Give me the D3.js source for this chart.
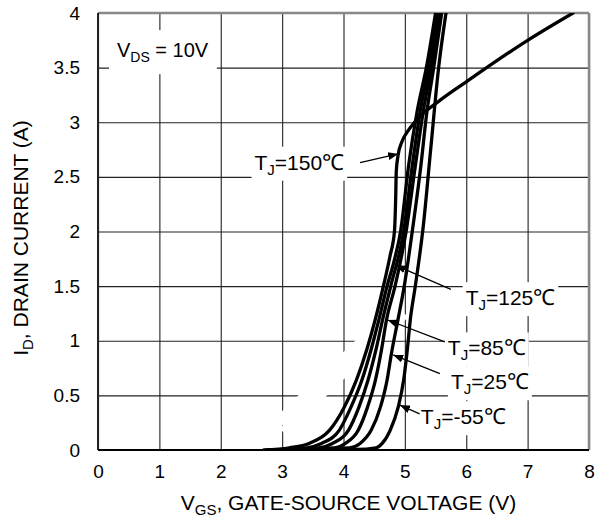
<!DOCTYPE html>
<html>
<head>
  <meta charset="UTF-8">
  <title>ID vs VGS transfer characteristics</title>
  <style>
    body { margin: 0; background: #fff; }
    svg text { font-family: "Liberation Sans", Arial, sans-serif; fill: #000; }
    .grid line { stroke: #222; stroke-width: 1.2px; }
    .grid path { display: none; }
    .curve { fill: none; stroke: #000; stroke-width: 3.3px; stroke-linejoin: round; stroke-linecap: round; }
    .arrow { stroke: #000; stroke-width: 1.3px; fill: none; }
  </style>
</head>
<body>
  <svg width="609" height="527" id="chart"></svg>
  <script src="https://cdn.jsdelivr.net/npm/d3@7/dist/d3.min.js"></script>
  <script>
    // axis ticks
    var xTicks = [0, 1, 2, 3, 4, 5, 6, 7, 8];
    var yTicks = [0, 0.5, 1, 1.5, 2, 2.5, 3, 3.5, 4];
    var yTickLabels = ["0", "0.5", "1", "1.5", "2", "2.5", "3", "3.5", "4"];

    // curves: [VGS (V), ID (A)]
    var curve150 = [[2.7, 0], [3.12, 0.02], [3.44, 0.06], [3.77, 0.18], [4.01, 0.39], [4.21, 0.64], [4.38, 0.92], [4.52, 1.2], [4.65, 1.5], [4.76, 1.78], [4.83, 2.0], [4.85, 2.3], [4.86, 2.55], [4.89, 2.7], [4.95, 2.82], [5.05, 2.92], [5.24, 3.05], [5.57, 3.2], [6.0, 3.37], [7.0, 3.75], [7.74, 4.0]];
    var curve125 = [[2.75, 0], [3.4, 0.02], [3.64, 0.06], [3.93, 0.18], [4.12, 0.39], [4.3, 0.64], [4.45, 0.92], [4.58, 1.2], [4.71, 1.5], [4.82, 1.72], [4.93, 2.0], [5.06, 2.6], [5.2, 3.1], [5.35, 3.5], [5.5, 4.0]];
    var curveMid = [[2.8, 0], [3.6, 0.02], [3.82, 0.06], [4.08, 0.18], [4.25, 0.39], [4.4, 0.64], [4.53, 0.92], [4.64, 1.2], [4.77, 1.5], [4.98, 2.0], [5.12, 2.6], [5.25, 3.1], [5.39, 3.5], [5.53, 4.0]];
    var curve85 = [[2.85, 0], [3.85, 0.02], [4.03, 0.06], [4.24, 0.18], [4.39, 0.39], [4.52, 0.64], [4.62, 0.92], [4.7, 1.19], [4.84, 1.5], [5.02, 2.0], [5.17, 2.6], [5.3, 3.1], [5.43, 3.5], [5.56, 4.0]];
    var curve25 = [[2.9, 0], [4.1, 0.02], [4.27, 0.06], [4.45, 0.18], [4.6, 0.39], [4.71, 0.64], [4.78, 0.88], [4.89, 1.2], [4.99, 1.5], [5.12, 2.0], [5.26, 2.6], [5.36, 3.1], [5.47, 3.5], [5.6, 4.0]];
    var curveM55 = [[3.0, 0], [4.2, 0.005], [4.53, 0.02], [4.63, 0.06], [4.76, 0.18], [4.89, 0.39], [4.98, 0.64], [5.04, 0.92], [5.09, 1.2], [5.17, 1.5], [5.3, 2.05], [5.42, 2.75], [5.55, 3.5], [5.67, 4.0]];

    // annotation labels: text start, arrow tail, arrow tip (data units)
    var labelTemps = ["150", "125", "85", "25", "-55"];
    var labelText = [[2.55, 2.63], [5.99, 1.39], [5.70, 0.93], [5.75, 0.62], [5.26, 0.30]];
    var arrowTail = [[4.27, 2.63], [5.75, 1.47], [5.65, 0.99], [5.57, 0.70], [5.24, 0.33]];
    var arrowTip = [[4.89, 2.71], [4.85, 1.69], [4.72, 1.19], [4.81, 0.87], [4.92, 0.41]];

    // faint watermark strokes (data units)
    var watermark = [
      [[1.74, -0.72], [2.79, 0.12]],
      [[3.0, 0.23], [4.94, 1.28]],
      [[3.08, 0.26], [4.66, -0.72]],
      [[5.63, 0.18], [4.55, -0.44]],
      [[7.39, -0.15], [6.36, -0.72]]
    ];

    var svg = d3.select("#chart"),
      margin = { top: 13, right: 20, bottom: 77, left: 98 },
      width = +svg.attr("width") - margin.left - margin.right,
      height = +svg.attr("height") - margin.top - margin.bottom;

    var x = d3.scaleLinear().domain([0, 8]).range([0, width]),
      y = d3.scaleLinear().domain([0, 4]).range([height, 0]);

    var g = svg.append("g").attr("transform", "translate(" + margin.left + "," + margin.top + ")");

    g.append("defs").append("clipPath").attr("id", "clip")
      .append("rect").attr("width", width).attr("height", height);

    var defs = svg.append("defs");
    defs.append("marker")
      .attr("id", "head")
      .attr("viewBox", "0 0 10 8")
      .attr("refX", 10).attr("refY", 4)
      .attr("markerWidth", 10).attr("markerHeight", 8)
      .attr("markerUnits", "userSpaceOnUse")
      .attr("orient", "auto")
      .append("path").attr("d", "M0,0L10,4L0,8Z").attr("fill", "#000");

    // grid
    g.append("g").attr("class", "grid")
      .attr("transform", "translate(0," + height + ")")
      .call(d3.axisBottom(x).tickValues(xTicks).tickSize(-height).tickFormat(""))
      .selectAll("line").style("stroke", "#333");
    g.append("g").attr("class", "grid")
      .call(d3.axisLeft(y).tickValues(yTicks).tickSize(-width).tickFormat(""));

    // watermark covers grid
    var wm = d3.line().x(function (d) { return x(d[0]); }).y(function (d) { return y(d[1]); });
    g.append("g").selectAll("path").data(watermark).enter().append("path")
      .attr("d", wm)
      .attr("stroke", "#fff").attr("stroke-width", 20).attr("fill", "none");

    // frame
    g.append("line").attr("x1", 0).attr("x2", width).attr("y1", 0).attr("y2", 0)
      .attr("stroke", "#888").attr("stroke-width", 2.5);
    g.append("line").attr("x1", width).attr("x2", width).attr("y1", 0).attr("y2", height)
      .attr("stroke", "#888").attr("stroke-width", 2.5);
    g.append("line").attr("x1", 0).attr("x2", 0).attr("y1", 0).attr("y2", height)
      .attr("stroke", "#222").attr("stroke-width", 2);
    g.append("line").attr("x1", 0).attr("x2", width).attr("y1", height).attr("y2", height)
      .attr("stroke", "#000").attr("stroke-width", 2);

    // tick labels
    var xAxis = g.append("g")
      .attr("transform", "translate(0," + height + ")")
      .call(d3.axisBottom(x).tickValues(xTicks).tickSize(0).tickPadding(15));
    xAxis.select(".domain").remove();
    xAxis.selectAll("text").style("font-size", "19px").style("font-family", "Liberation Sans, Arial, sans-serif");

    var yAxis = g.append("g")
      .call(d3.axisLeft(y).tickValues(yTicks).tickSize(0).tickPadding(18)
        .tickFormat(function (d, i) { return yTickLabels[i]; }));
    yAxis.select(".domain").remove();
    yAxis.selectAll("text").style("font-size", "19px").style("font-family", "Liberation Sans, Arial, sans-serif");

    // axis titles
    var xt = svg.append("text")
      .attr("x", margin.left + width / 2 + 5).attr("y", 510)
      .attr("text-anchor", "middle").style("font-size", "21px");
    xt.append("tspan").text("V");
    xt.append("tspan").attr("dy", 5).style("font-size", "15px").text("GS");
    xt.append("tspan").attr("dy", -5).text(", GATE-SOURCE VOLTAGE (V)");

    var yt = svg.append("text")
      .attr("transform", "translate(28," + 238 + ") rotate(-90)")
      .attr("text-anchor", "middle").style("font-size", "21px");
    yt.append("tspan").text("I");
    yt.append("tspan").attr("dy", 5).style("font-size", "15px").text("D");
    yt.append("tspan").attr("dy", -5).text(", DRAIN CURRENT (A)");

    // label helper: white box behind a subscripted label
    function subLabel(parent, px, py, size, main, sub, rest, unit, padX, padY) {
      var lg = parent.append("g");
      var rect = lg.append("rect").attr("fill", "#fff");
      var t = lg.append("text").attr("x", px).attr("y", py).style("font-size", size + "px");
      t.append("tspan").text(main);
      t.append("tspan").attr("dy", 5).style("font-size", Math.round(size * 0.7) + "px").text(sub);
      t.append("tspan").attr("dy", -5).text(rest);
      if (unit) {
        t.append("tspan").style("font-size", (size + 1) + "px").text(unit);
      }
      var b = t.node().getBBox();
      rect.attr("x", b.x - padX).attr("y", b.y - padY)
        .attr("width", b.width + 2 * padX).attr("height", b.height + 2 * padY);
      return lg;
    }

    // V_DS label
    subLabel(g, x(0.31), y(3.66) + 7, 20, "V", "DS", " = 10V", null, 8, 9);

    // temperature labels and arrows
    var notes = g.append("g");
    labelTemps.forEach(function (tmp, i) {
      subLabel(notes, x(labelText[i][0]), y(labelText[i][1]) + 7, 21, "T", "J", "=" + tmp, "\u2103", 3, 3);
    });
    notes.selectAll("line.arrow").data(labelTemps).enter().append("line")
      .attr("class", "arrow")
      .attr("x1", function (d, i) { return x(arrowTail[i][0]); })
      .attr("y1", function (d, i) { return y(arrowTail[i][1]); })
      .attr("x2", function (d, i) { return x(arrowTip[i][0]); })
      .attr("y2", function (d, i) { return y(arrowTip[i][1]); })
      .attr("marker-end", "url(#head)");

    // curves
    var line = d3.line()
      .curve(d3.curveMonotoneX)
      .x(function (d) { return x(d[0]); })
      .y(function (d) { return y(d[1]); });

    var series = [curveM55, curve25, curve85, curveMid, curve125, curve150];
    g.append("g").attr("clip-path", "url(#clip)")
      .selectAll("path").data(series).enter().append("path")
      .attr("class", "curve")
      .attr("d", line);
  </script>
</body>
</html>
